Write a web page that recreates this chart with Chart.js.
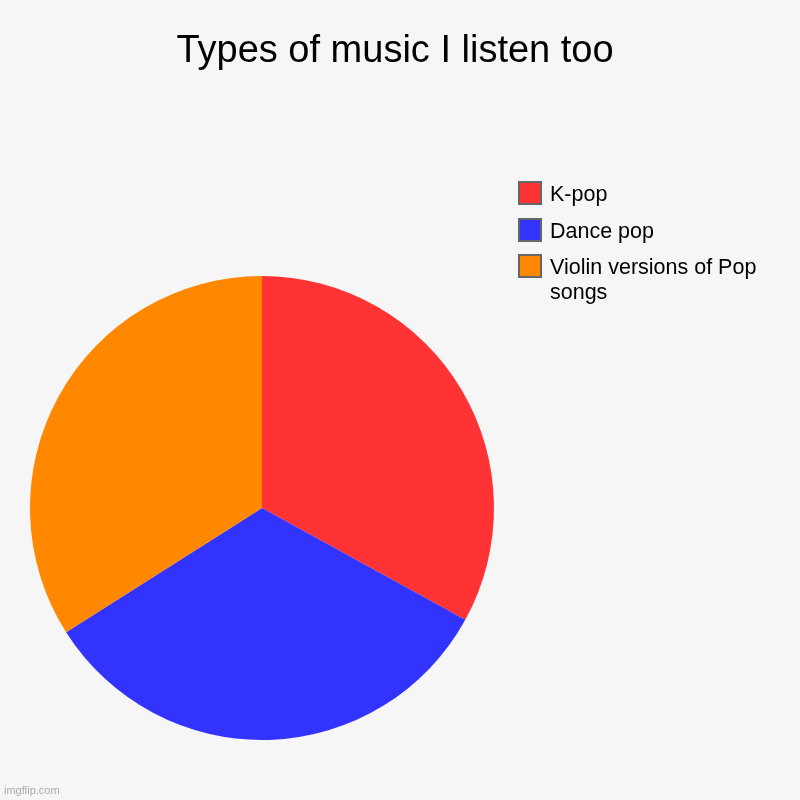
<!DOCTYPE html>
<html lang="en">
<head>
  <meta charset="UTF-8">
  <title>Types of music I listen too</title>
  <script src="https://cdn.jsdelivr.net/npm/chart.js"></script>
  <style>
    body { margin: 0; background: #f6f6f6; }
    canvas { display: block; }
  </style>
</head>
<body>
  <canvas id="pie" width="800" height="800"></canvas>
  <script>
    const title = 'Types of music I listen too';
    const labels = ['K-pop', 'Dance pop', 'Violin versions of Pop songs'];
    const values = [33, 33, 34];
    const colors = ['#ff3333', '#3333ff', '#ff8800'];

    // background, title, legend and watermark drawn by hand
    const decor = {
      id: 'decor',
      beforeDraw(chart) {
        const c = chart.ctx;
        c.save();
        c.fillStyle = '#f6f6f6';
        c.fillRect(0, 0, chart.width, chart.height);
        c.restore();
      },
      afterDraw(chart) {
        const c = chart.ctx;
        c.save();
        c.fillStyle = '#000';
        c.font = '38px "Liberation Sans", Arial, sans-serif';
        c.textAlign = 'center';
        c.textBaseline = 'alphabetic';
        c.fillText(title, 395, 62);

        c.font = '21.5px "Liberation Sans", Arial, sans-serif';
        c.textAlign = 'left';
        const lines = [['K-pop'], ['Dance pop'], ['Violin versions of Pop', 'songs']];
        const boxY = [182, 219, 255];
        chart.data.labels.forEach((lab, i) => {
          const y = boxY[i];
          c.fillStyle = chart.data.datasets[0].backgroundColor[i];
          c.fillRect(519, y, 22, 22);
          c.strokeStyle = '#666';
          c.lineWidth = 2;
          c.strokeRect(519, y, 22, 22);
          c.fillStyle = '#000';
          lines[i].forEach((t, j) => c.fillText(t, 550, y + 19 + j * 25));
        });

        c.fillStyle = '#aaa';
        c.font = '11px "Liberation Sans", Arial, sans-serif';
        c.fillText('imgflip.com', 4, 794);
        c.restore();
      }
    };

    new Chart(document.getElementById('pie'), {
      type: 'pie',
      data: {
        labels: labels,
        datasets: [{
          data: values,
          backgroundColor: colors,
          borderWidth: 0
        }]
      },
      options: {
        responsive: false,
        devicePixelRatio: 1,
        animation: false,
        layout: { padding: { left: 30, right: 306, top: 276, bottom: 60 } },
        plugins: {
          legend: { display: false },
          title: { display: false },
          tooltip: { enabled: false }
        }
      },
      plugins: [decor]
    });
  </script>
</body>
</html>
